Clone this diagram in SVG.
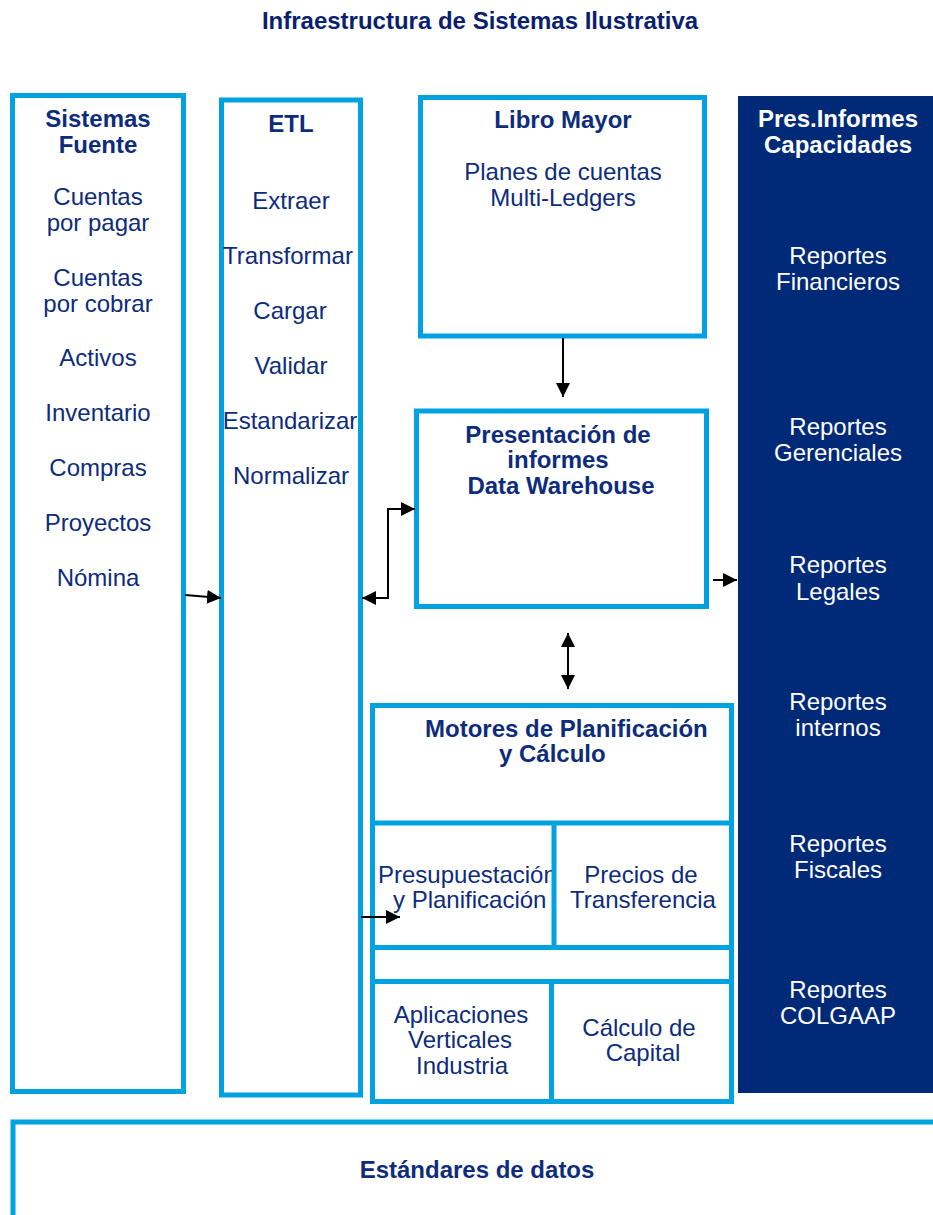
<svg xmlns="http://www.w3.org/2000/svg" width="933" height="1215" viewBox="0 0 933 1215">
<style>
.box{fill:#ffffff;stroke:#00a3e0;stroke-width:5}
.ln{fill:none;stroke:#00a3e0;stroke-width:5}
.t{font-family:"Liberation Sans",Arial,sans-serif;font-size:24px;fill:#0d2c7c;text-anchor:middle}
.b{font-weight:bold}
.w{fill:#ffffff}
.title{font-family:"Liberation Sans",Arial,sans-serif;font-size:24px;font-weight:bold;fill:#0a1f70;text-anchor:middle}
.conn{fill:none;stroke:#000000;stroke-width:2}
</style>
<defs>
<marker id="ah" viewBox="0 0 14 14" refX="14" refY="7" markerWidth="14" markerHeight="14" markerUnits="userSpaceOnUse" orient="auto-start-reverse">
<path d="M0,0 L14,7 L0,14 z" fill="#000000"/>
</marker>
</defs>
<rect x="0" y="0" width="933" height="1215" fill="#ffffff"/>
<text class="title" x="480" y="29">Infraestructura de Sistemas Ilustrativa</text>

<g id="sistemas-fuente">
<rect class="box" x="12.5" y="95.5" width="171" height="996"/>
<text class="t b" x="98" y="127">Sistemas</text>
<text class="t b" x="98" y="153">Fuente</text>
<text class="t" x="98" y="205">Cuentas</text>
<text class="t" x="98" y="231">por pagar</text>
<text class="t" x="98" y="286">Cuentas</text>
<text class="t" x="98" y="312">por cobrar</text>
<text class="t" x="98" y="366">Activos</text>
<text class="t" x="98" y="421">Inventario</text>
<text class="t" x="98" y="476">Compras</text>
<text class="t" x="98" y="531">Proyectos</text>
<text class="t" x="98" y="586">Nómina</text>
</g>

<g id="etl">
<rect class="box" x="221.5" y="100" width="139" height="995"/>
<text class="t b" x="291" y="132">ETL</text>
<text class="t" x="291" y="209">Extraer</text>
<text class="t" x="288" y="264">Transformar</text>
<text class="t" x="290" y="319">Cargar</text>
<text class="t" x="291" y="374">Validar</text>
<text class="t" x="290" y="429">Estandarizar</text>
<text class="t" x="291" y="484">Normalizar</text>
</g>

<g id="libro-mayor">
<rect class="box" x="420.5" y="97.5" width="284" height="238.5"/>
<text class="t b" x="563" y="128">Libro Mayor</text>
<text class="t" x="563" y="180">Planes de cuentas</text>
<text class="t" x="563" y="206">Multi-Ledgers</text>
</g>

<g id="data-warehouse">
<rect class="box" x="416.5" y="411" width="290" height="195.5"/>
<text class="t b" x="558" y="443">Presentación de</text>
<text class="t b" x="558" y="468">informes</text>
<text class="t b" x="561" y="494">Data Warehouse</text>
</g>

<g id="motores">
<rect class="box" x="372.5" y="705.5" width="359" height="396"/>
<text class="t b" x="425" y="737" style="text-anchor:start">Motores de Planificación</text>
<text class="t b" x="499" y="762" style="text-anchor:start">y Cálculo</text>
<line class="ln" x1="372.5" y1="823" x2="731.5" y2="823"/>
<line class="ln" x1="372.5" y1="947.5" x2="731.5" y2="947.5"/>
<line class="ln" x1="372.5" y1="981.5" x2="731.5" y2="981.5"/>
</g>

<g id="presupuestacion">
<text class="t" x="378" y="883" style="text-anchor:start">Presupuestación</text>
<text class="t" x="393" y="908" style="text-anchor:start">y Planificación</text>
</g>
<g id="precios-transferencia">
<text class="t" x="641" y="883">Precios de</text>
<text class="t" x="643" y="908">Transferencia</text>
</g>
<g id="aplicaciones-verticales">
<text class="t" x="461" y="1023">Aplicaciones</text>
<text class="t" x="460" y="1048">Verticales</text>
<text class="t" x="462" y="1074">Industria</text>
</g>
<g id="calculo-capital">
<text class="t" x="639" y="1036">Cálculo de</text>
<text class="t" x="643" y="1061">Capital</text>
</g>
<g id="motores-dividers">
<line class="ln" x1="554" y1="823" x2="554" y2="947.5"/>
<line class="ln" x1="551.5" y1="981.5" x2="551.5" y2="1101.5"/>
</g>

<g id="capacidades">
<rect x="738" y="96" width="195" height="997" fill="#002a78"/>
<text class="t b w" x="838" y="127">Pres.Informes</text>
<text class="t b w" x="838" y="153">Capacidades</text>
<text class="t w" x="838" y="264">Reportes</text>
<text class="t w" x="838" y="290">Financieros</text>
<text class="t w" x="838" y="435">Reportes</text>
<text class="t w" x="838" y="461">Gerenciales</text>
<text class="t w" x="838" y="573">Reportes</text>
<text class="t w" x="838" y="600">Legales</text>
<text class="t w" x="838" y="710">Reportes</text>
<text class="t w" x="838" y="736">internos</text>
<text class="t w" x="838" y="852">Reportes</text>
<text class="t w" x="838" y="878">Fiscales</text>
<text class="t w" x="838" y="998">Reportes</text>
<text class="t w" x="838" y="1024">COLGAAP</text>
</g>

<g id="estandares">
<rect class="box" x="13" y="1122" width="940" height="200"/>
<text class="t b" x="477" y="1178">Estándares de datos</text>
</g>

<g id="connectors">
<path class="conn" d="M185,595 L221,598" marker-end="url(#ah)"/>
<path class="conn" d="M362,598 H388 V509 H415" marker-start="url(#ah)" marker-end="url(#ah)"/>
<path class="conn" d="M563,338 V397" marker-end="url(#ah)"/>
<path class="conn" d="M568,633 V689" marker-start="url(#ah)" marker-end="url(#ah)"/>
<path class="conn" d="M713,580 H737" marker-end="url(#ah)"/>
<path class="conn" d="M361,917 H400" marker-end="url(#ah)"/>
</g>
</svg>
